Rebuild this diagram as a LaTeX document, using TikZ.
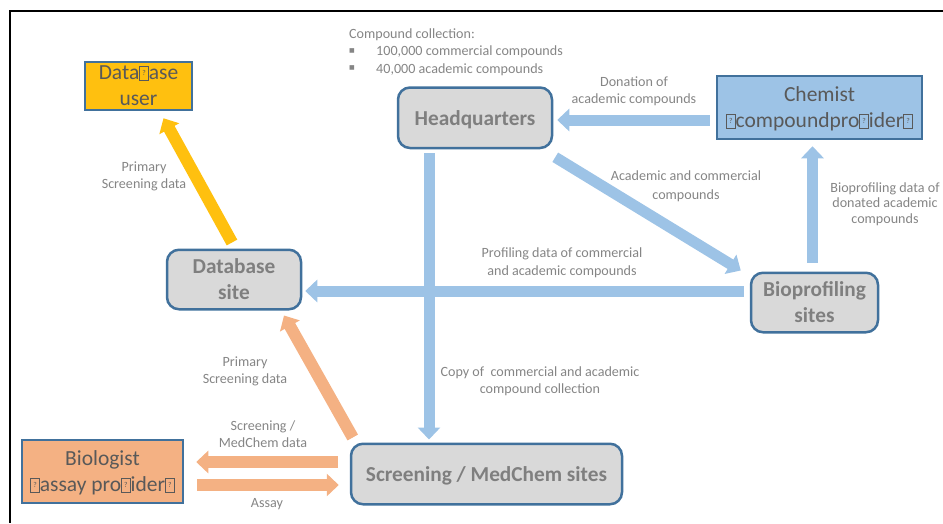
\documentclass[tikz,border=0pt]{standalone}
\usepackage{fontspec}
\setmainfont{Carlito}
\newfontfamily\dvfont{DejaVu Sans}
\usetikzlibrary{arrows.meta}
\definecolor{edgeblue}{HTML}{41719C}
\definecolor{flowblue}{HTML}{9DC3E6}
\definecolor{floworange}{HTML}{F4B183}
\definecolor{flowyellow}{HTML}{FFC00F}
\definecolor{boxgrey}{HTML}{D9D9D9}
\definecolor{labelgrey}{HTML}{858585}
\definecolor{titlegrey}{HTML}{7F7F7F}
\definecolor{actortext}{HTML}{595959}
\newcommand{\miss}{{\setlength\fboxsep{0pt}\setlength\fboxrule{0.45pt}\fbox{\rule[-0.02em]{0pt}{0.64em}\makebox[0.40em]{\raisebox{4pt}{\fontsize{7.5}{7.5}\selectfont ?}}}}}
\tikzset{
  actor/.style={draw=edgeblue,line width=2.5pt,text=actortext,align=center,font=\fontsize{21.5}{26}\selectfont,inner sep=0pt,text depth=-1pt},
  site/.style={draw=edgeblue,line width=2.5pt,fill=boxgrey,rounded corners=12pt,text=titlegrey,align=center,font=\fontsize{21.3}{26}\selectfont\bfseries,inner sep=0pt},
  twolines/.style={text depth=-1pt},
  oneline/.style={execute at begin node={\rule{0pt}{19.5pt}}},
  lbl/.style={text=labelgrey,align=center,font=\fontsize{14.1}{17}\selectfont,inner sep=0pt},
  lbll/.style={lbl,anchor=west},
  fat/.style={line width=#1,-{Triangle[length=12pt,width=22pt]}},
  bluearrow/.style={fat=11pt,draw=flowblue,fill=flowblue},
  orangearrow/.style={fat=12pt,draw=floworange,fill=floworange},
  yellowarrow/.style={fat=12pt,draw=flowyellow,fill=flowyellow}
}
\begin{document}
\begin{tikzpicture}[x=1pt,y=-1pt]
\useasboundingbox (0,0) rectangle (943,523);
\draw[black,line width=1.5pt] (943,11) -- (10,11) -- (10,523);
% nodes
\node[actor,fill=flowyellow,minimum width=107pt,minimum height=48pt] (dbuser) at (138.5,86) {Data\miss ase\\user};
\node[actor,fill=flowblue,minimum width=205pt,minimum height=63pt] (chem) at (819.5,107.5) {Chemist\\\miss compoundpro\miss ider\miss};
\node[actor,fill=floworange,minimum width=161pt,minimum height=63pt] (bio) at (102.5,471.5) {Biologist\\\miss assay pro\miss ider\miss};
\node[site,oneline,minimum width=154pt,minimum height=60.5pt] (hq) at (475,117.75) {Headquarters};
\node[site,twolines,minimum width=134pt,minimum height=59.5pt] (dbsite) at (234,279.5) {Database\\site};
\node[site,twolines,minimum width=127pt,minimum height=59.5pt] (biosite) at (814.5,302.5) {Bioprofiling\\sites};
\node[site,oneline,minimum width=271pt,minimum height=60.5pt] (screen) at (486.5,474) {Screening / MedChem sites};
% connectors
\draw[bluearrow] ([shift={(-6,12.5)}]chem.west) -- ([shift={(4,2.25)}]hq.east);
\draw[bluearrow] ([shift={(-46,4)}]hq.south) -- ([shift={(-57.5,-3)}]screen.north);
\draw[bluearrow] ([shift={(2,8)}]hq.south east) -- ([shift={(-9,-1)}]biosite.north west);
\draw[bluearrow] ([shift={(-6,-11.5)}]biosite.west) -- ([shift={(3,11.5)}]dbsite.east);
\draw[bluearrow] ([shift={(-2,-9)}]biosite.north) -- ([shift={(-7,6)}]chem.south);
\draw[yellowarrow] ([shift={(-2,-6)}]dbsite.north) -- ([shift={(25,7)}]dbuser.south);
\draw[orangearrow] ([shift={(3,-5)}]screen.north west) -- ([shift={(50,5)}]dbsite.south);
\draw[orangearrow] ([shift={(-12,-12)}]screen.west) -- ([shift={(12,-9.5)}]bio.east);
\draw[orangearrow] ([shift={(13,13.5)}]bio.east) -- ([shift={(-11,11)}]screen.west);
% labels
\node[lbl] (l1) at (144,176) {Primary\\Screening data};
\node[lbll] (l2) at (349,34.5) {Compound collection:};
\node[lbl,font=\dvfont\fontsize{6}{6}\selectfont] (b1) at (352,51) {■};
\node[lbl,font=\dvfont\fontsize{6}{6}\selectfont] (b2) at (352,68) {■};
\node[lbll] (l3) at (376,52) {100,000 commercial compounds};
\node[lbll] (l4) at (376,69.5) {40,000 academic compounds};
\node[lbl] (l5) at (634,91) {Donation of\\academic compounds};
\node[lbl,font=\fontsize{14.1}{19}\selectfont] (l6) at (686,186) {Academic and commercial\\compounds};
\node[lbl,font=\fontsize{14.1}{15.5}\selectfont] (l7) at (885,204) {Bioprofiling data of\\donated academic\\compounds};
\node[lbl,font=\fontsize{14.1}{18}\selectfont] (l8) at (562,262.5) {Profiling data of commercial\\and academic compounds};
\node[lbl] (l9) at (540,381) {Copy of \ commercial and academic\\compound collection};
\node[lbl] (l10) at (245,371) {Primary\\Screening data};
\node[lbl] (l11) at (263,434) {Screening /\\MedChem data};
\node[lbl] (l12) at (267,504.5) {Assay};
\end{tikzpicture}
\end{document}
